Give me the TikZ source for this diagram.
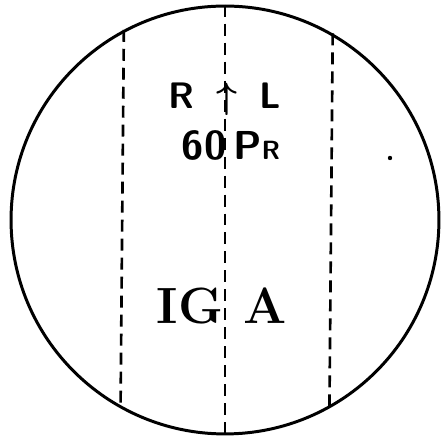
\documentclass[tikz,border=0pt]{standalone}
\usepackage{fontspec}
\usepackage{tikz}
\usetikzlibrary{positioning}
\tikzset{
    lente/.style={
        circle,
        draw,
        line width=1.7pt,
        minimum size=8.56cm,
        inner sep=0pt
    },
    guia/.style={line width=1.5pt, dash pattern=on 0.24cm off 0.14cm},
    rotulo/.style={inner sep=0pt, font=\sffamily\bfseries\fontsize{21}{21}\selectfont},
    rotuloGrande/.style={inner sep=0pt, font=\sffamily\bfseries\fontsize{23}{23}\selectfont},
    marca/.style={inner sep=0pt, font=\rmfamily\bfseries\fontsize{29}{29}\selectfont}
}

\begin{document}
\begin{tikzpicture}[x=0.02cm, y=-0.02cm]
    \useasboundingbox (0,0) rectangle (441,438);
    \node[lente] (campo) at (225,220) {};

    % linhas guia
    \draw[guia] (campo.118.5) -- (campo.241.5);
    \draw[guia] (campo.90) -- (campo.270);
    \draw[guia] (campo.60.6) -- (campo.299.4);

    \node[rotulo] (lado) at (225,99) {R\hspace{0.6em}{\boldmath$\uparrow$}\hspace{0.6em}L};
    \node[rotuloGrande] (prisma) at (231,145) {60\,P{\fontsize{15}{15}\selectfont R}};
    \node[marca] (olho) at (222,306) {IG\hspace{0.4em}A};
    \fill (390,158) circle (2.2);
\end{tikzpicture}
\end{document}
